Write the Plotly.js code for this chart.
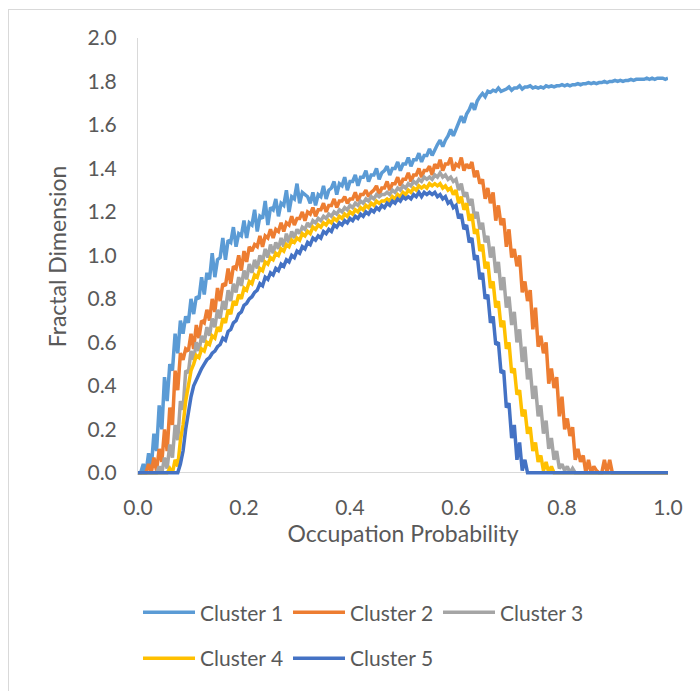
<!DOCTYPE html>
<html>
<head>
<meta charset="utf-8">
<script src="https://cdn.plot.ly/plotly-3.0.1.min.js"></script>
<style>
  html, body { margin: 0; padding: 0; background: #fff; }
  #wrap { position: relative; width: 700px; height: 691px; overflow: hidden; }
  #chart { position: absolute; left: 0; top: 0; width: 700px; height: 691px; }
  #frame { position: absolute; left: 8px; top: 9px; width: 800px; height: 800px;
           border-left: 1px solid #d9d9d9; border-top: 1px solid #d9d9d9; pointer-events: none; }
</style>
</head>
<body>
<div id="wrap"><div id="chart"></div><div id="frame"></div></div>
<script>
// Sampling grid of occupation probability (step 0.005, 0 .. 1)
const occupationProbability = Array.from({length: 201}, (_, i) => +(i * 0.005).toFixed(3));

const seriesNames = ['Cluster 1', 'Cluster 2', 'Cluster 3', 'Cluster 4', 'Cluster 5'];
const seriesColors = ['#5B9BD5', '#ED7D31', '#A5A5A5', '#FFC000', '#4472C4'];

const cluster1 = [
  0, 0, 0.04, 0, 0.09, 0.02, 0.18, 0.10, 0.31, 0.20,
  0.44, 0.33, 0.50, 0.47, 0.64, 0.55, 0.70, 0.64, 0.72, 0.69,
  0.80, 0.73, 0.81, 0.80, 0.90, 0.82, 0.92, 0.89, 1.01, 0.90,
  0.98, 0.99, 1.08, 0.98, 1.07, 1.06, 1.13, 1.04, 1.10, 1.09,
  1.16, 1.08, 1.15, 1.14, 1.21, 1.11, 1.18, 1.17, 1.25, 1.14,
  1.22, 1.21, 1.26, 1.18, 1.24, 1.23, 1.30, 1.20, 1.27, 1.26,
  1.33, 1.24, 1.29, 1.28, 1.27, 1.24, 1.29, 1.23, 1.28, 1.27,
  1.32, 1.26, 1.30, 1.31, 1.34, 1.28, 1.33, 1.32, 1.36, 1.30,
  1.34, 1.34, 1.37, 1.32, 1.36, 1.36, 1.39, 1.34, 1.37, 1.37,
  1.40, 1.35, 1.38, 1.39, 1.41, 1.37, 1.40, 1.40, 1.43, 1.39,
  1.42, 1.42, 1.45, 1.41, 1.44, 1.44, 1.47, 1.43, 1.46, 1.46,
  1.49, 1.46, 1.49, 1.51, 1.53, 1.50, 1.53, 1.55, 1.58, 1.55,
  1.58, 1.61, 1.64, 1.61, 1.65, 1.67, 1.70, 1.67, 1.71, 1.73,
  1.745, 1.73, 1.755, 1.75, 1.76, 1.755, 1.77, 1.755, 1.76, 1.765,
  1.775, 1.76, 1.77, 1.77, 1.78, 1.765, 1.775, 1.775, 1.78, 1.77,
  1.775, 1.77, 1.775, 1.77, 1.78, 1.775, 1.78, 1.775, 1.78, 1.78,
  1.785, 1.78, 1.785, 1.78, 1.785, 1.785, 1.79, 1.785, 1.79, 1.79,
  1.795, 1.79, 1.795, 1.79, 1.795, 1.795, 1.80, 1.795, 1.80, 1.80,
  1.805, 1.80, 1.805, 1.80, 1.805, 1.805, 1.81, 1.805, 1.81, 1.81,
  1.81, 1.81, 1.815, 1.81, 1.815, 1.81, 1.815, 1.815, 1.815, 1.81,
  1.815
];

const cluster2 = [
  0, 0, 0, 0, 0.04, 0, 0.07, 0.01, 0.11, 0.05,
  0.20, 0.10, 0.30, 0.22, 0.47, 0.38, 0.55, 0.52, 0.57, 0.56,
  0.64, 0.57, 0.68, 0.62, 0.70, 0.69, 0.75, 0.70, 0.80, 0.74,
  0.85, 0.79, 0.87, 0.86, 0.94, 0.87, 0.95, 0.94, 1.00, 0.93,
  1.02, 0.97, 1.04, 1.02, 1.05, 1.04, 1.09, 1.04, 1.09, 1.08,
  1.12, 1.08, 1.12, 1.11, 1.15, 1.11, 1.15, 1.14, 1.18, 1.14,
  1.17, 1.17, 1.20, 1.16, 1.20, 1.19, 1.22, 1.18, 1.21, 1.21,
  1.24, 1.20, 1.23, 1.23, 1.26, 1.22, 1.25, 1.25, 1.27, 1.24,
  1.26, 1.26, 1.29, 1.25, 1.28, 1.28, 1.30, 1.27, 1.29, 1.30,
  1.32, 1.28, 1.31, 1.31, 1.34, 1.30, 1.33, 1.33, 1.36, 1.32,
  1.35, 1.35, 1.38, 1.34, 1.37, 1.37, 1.40, 1.36, 1.39, 1.39,
  1.41, 1.37, 1.42, 1.40, 1.44, 1.39, 1.42, 1.42, 1.45, 1.39,
  1.42, 1.41, 1.45, 1.39, 1.42, 1.40, 1.43, 1.36, 1.39, 1.33,
  1.35, 1.26, 1.31, 1.24, 1.29, 1.16, 1.23, 1.14, 1.17, 1.04,
  1.12, 0.99, 1.03, 0.95, 1.00, 0.83, 0.88, 0.79, 0.84, 0.66,
  0.76, 0.58, 0.63, 0.55, 0.60, 0.41, 0.48, 0.39, 0.44, 0.26,
  0.35, 0.20, 0.25, 0.17, 0.21, 0.06, 0.11, 0.05, 0.08, 0,
  0.06, 0, 0.03, 0.01, 0, 0, 0.06, 0, 0.06, 0,
  0, 0, 0, 0, 0, 0, 0, 0, 0, 0,
  0, 0, 0, 0, 0, 0, 0, 0, 0, 0,
  0
];

const cluster3 = [
  0, 0, 0, 0, 0, 0, 0, 0, 0.03, 0,
  0.07, 0.02, 0.13, 0.07, 0.22, 0.15, 0.33, 0.29, 0.47, 0.46,
  0.56, 0.52, 0.60, 0.56, 0.63, 0.60, 0.67, 0.63, 0.71, 0.67,
  0.75, 0.71, 0.79, 0.75, 0.84, 0.79, 0.87, 0.83, 0.90, 0.86,
  0.93, 0.89, 0.96, 0.92, 0.98, 0.94, 1.00, 0.97, 1.03, 0.99,
  1.05, 1.01, 1.06, 1.03, 1.08, 1.04, 1.10, 1.06, 1.11, 1.08,
  1.12, 1.10, 1.13, 1.12, 1.15, 1.13, 1.16, 1.15, 1.17, 1.16,
  1.18, 1.17, 1.19, 1.18, 1.20, 1.19, 1.21, 1.20, 1.22, 1.21,
  1.23, 1.22, 1.24, 1.23, 1.25, 1.24, 1.26, 1.25, 1.27, 1.26,
  1.28, 1.27, 1.28, 1.28, 1.29, 1.28, 1.30, 1.29, 1.31, 1.30,
  1.32, 1.31, 1.33, 1.32, 1.34, 1.33, 1.35, 1.34, 1.36, 1.35,
  1.36, 1.35, 1.37, 1.36, 1.38, 1.36, 1.37, 1.35, 1.36, 1.34,
  1.35, 1.30, 1.33, 1.27, 1.29, 1.23, 1.26, 1.17, 1.20, 1.12,
  1.15, 1.06, 1.09, 0.99, 1.04, 0.92, 0.97, 0.84, 0.90, 0.76,
  0.81, 0.68, 0.74, 0.60, 0.66, 0.51, 0.58, 0.43, 0.48, 0.34,
  0.40, 0.26, 0.31, 0.18, 0.24, 0.11, 0.16, 0.06, 0.10, 0.02,
  0.04, 0.01, 0.03, 0, 0.02, 0, 0, 0, 0, 0,
  0, 0, 0, 0, 0, 0, 0, 0, 0, 0,
  0, 0, 0, 0, 0, 0, 0, 0, 0, 0,
  0, 0, 0, 0, 0, 0, 0, 0, 0, 0,
  0
];

const cluster4 = [
  0, 0, 0, 0, 0, 0, 0, 0, 0, 0,
  0, 0, 0.02, 0, 0.06, 0.03, 0.15, 0.22, 0.33, 0.40,
  0.47, 0.50, 0.54, 0.53, 0.57, 0.56, 0.60, 0.59, 0.63, 0.62,
  0.67, 0.65, 0.71, 0.69, 0.75, 0.73, 0.79, 0.77, 0.82, 0.80,
  0.85, 0.84, 0.88, 0.87, 0.91, 0.90, 0.94, 0.93, 0.97, 0.96,
  0.99, 0.98, 1.01, 1.00, 1.03, 1.02, 1.05, 1.04, 1.07, 1.06,
  1.08, 1.07, 1.10, 1.09, 1.11, 1.10, 1.13, 1.12, 1.14, 1.13,
  1.15, 1.14, 1.16, 1.15, 1.17, 1.16, 1.18, 1.17, 1.19, 1.18,
  1.20, 1.19, 1.21, 1.20, 1.22, 1.21, 1.23, 1.22, 1.24, 1.23,
  1.25, 1.24, 1.25, 1.25, 1.26, 1.25, 1.27, 1.26, 1.28, 1.27,
  1.29, 1.28, 1.30, 1.29, 1.31, 1.30, 1.32, 1.31, 1.32, 1.31,
  1.33, 1.32, 1.33, 1.32, 1.33, 1.31, 1.32, 1.30, 1.31, 1.28,
  1.30, 1.24, 1.27, 1.21, 1.24, 1.16, 1.19, 1.10, 1.12, 1.02,
  1.05, 0.94, 0.97, 0.85, 0.88, 0.76, 0.79, 0.67, 0.70, 0.57,
  0.60, 0.46, 0.48, 0.36, 0.38, 0.26, 0.29, 0.18, 0.21, 0.10,
  0.14, 0.05, 0.08, 0.01, 0.05, 0, 0.03, 0, 0, 0,
  0, 0, 0, 0, 0, 0, 0, 0, 0, 0,
  0, 0, 0, 0, 0, 0, 0, 0, 0, 0,
  0, 0, 0, 0, 0, 0, 0, 0, 0, 0,
  0, 0, 0, 0, 0, 0, 0, 0, 0, 0,
  0
];

const cluster5 = [
  0, 0, 0, 0, 0, 0, 0, 0, 0, 0,
  0, 0, 0, 0, 0, 0, 0.04, 0.10, 0.20, 0.28,
  0.35, 0.40, 0.43, 0.46, 0.48, 0.50, 0.52, 0.53, 0.55, 0.56,
  0.58, 0.59, 0.62, 0.61, 0.65, 0.66, 0.69, 0.70, 0.73, 0.74,
  0.77, 0.78, 0.80, 0.81, 0.83, 0.84, 0.87, 0.86, 0.90, 0.89,
  0.92, 0.91, 0.94, 0.93, 0.96, 0.95, 0.98, 0.97, 1.00, 0.99,
  1.02, 1.01, 1.04, 1.03, 1.06, 1.05, 1.08, 1.07, 1.09, 1.08,
  1.11, 1.10, 1.12, 1.11, 1.14, 1.13, 1.15, 1.14, 1.16, 1.15,
  1.17, 1.16, 1.18, 1.17, 1.19, 1.18, 1.20, 1.19, 1.21, 1.20,
  1.22, 1.21, 1.23, 1.22, 1.24, 1.23, 1.25, 1.24, 1.26, 1.25,
  1.27, 1.26, 1.27, 1.26, 1.28, 1.27, 1.29, 1.27, 1.29, 1.28,
  1.29, 1.28, 1.29, 1.27, 1.28, 1.26, 1.27, 1.24, 1.25, 1.22,
  1.23, 1.17, 1.19, 1.12, 1.14, 1.06, 1.08, 0.98, 1.00, 0.89,
  0.92, 0.80, 0.82, 0.69, 0.72, 0.59, 0.60, 0.46, 0.47, 0.30,
  0.32, 0.16, 0.22, 0.06, 0.14, 0.01, 0.06, 0, 0, 0,
  0, 0, 0, 0, 0, 0, 0, 0, 0, 0,
  0, 0, 0, 0, 0, 0, 0, 0, 0, 0,
  0, 0, 0, 0, 0, 0, 0, 0, 0, 0,
  0, 0, 0, 0, 0, 0, 0, 0, 0, 0,
  0, 0, 0, 0, 0, 0, 0, 0, 0, 0,
  0
];

const xTickValues = [0, 0.2, 0.4, 0.6, 0.8, 1.0];
const yTickValues = [0, 0.2, 0.4, 0.6, 0.8, 1.0, 1.2, 1.4, 1.6, 1.8, 2.0];

const allSeries = [cluster1, cluster2, cluster3, cluster4, cluster5];
const legendIds = ['legend', 'legend', 'legend', 'legend2', 'legend2'];

const traces = allSeries.map((ys, k) => ({
  type: 'scatter',
  mode: 'lines',
  name: seriesNames[k],
  x: occupationProbability,
  y: ys,
  line: {color: seriesColors[k], width: 3.5},
  legend: legendIds[k],
  hoverinfo: 'x+y+name'
}));

const textColor = '#595959';
const fontFamily = 'Lato, "Open Sans", sans-serif';

const legendCommon = {
  orientation: 'h',
  x: 0, xanchor: 'left',
  yanchor: 'middle',
  entrywidth: 83, entrywidthmode: 'pixels',
  itemwidth: 52,
  font: {family: fontFamily, size: 21, color: textColor},
  bgcolor: 'rgba(0,0,0,0)', borderwidth: 0,
  traceorder: 'normal'
};

const layout = {
  width: 700, height: 691,
  margin: {l: 138, r: 32, t: 38, b: 213, pad: 0},
  paper_bgcolor: '#ffffff', plot_bgcolor: '#ffffff',
  font: {family: fontFamily, color: textColor},
  showlegend: true,
  xaxis: {
    range: [0, 1],
    tickvals: xTickValues,
    tickformat: '.1f',
    ticks: '', showgrid: false, zeroline: false,
    showline: false,
    ticklabelstandoff: 18,
    tickfont: {family: fontFamily, size: 21, color: textColor},
    title: {text: 'Occupation Probability', font: {family: fontFamily, size: 23, color: textColor}, standoff: 7}
  },
  yaxis: {
    range: [-0.01, 2],
    tickvals: yTickValues,
    tickformat: '.1f',
    ticks: '', showgrid: false,
    zeroline: true, zerolinecolor: '#d9d9d9', zerolinewidth: 1,
    showline: true, linecolor: '#d9d9d9', linewidth: 1,
    ticklabelstandoff: 16,
    tickfont: {family: fontFamily, size: 21, color: textColor},
    title: {text: 'Fractal Dimension', font: {family: fontFamily, size: 23, color: textColor}, standoff: 14}
  },
  legend: Object.assign({}, legendCommon, {y: (476 - 614) / 438}),
  legend2: Object.assign({}, legendCommon, {y: (476 - 660) / 438})
};

Plotly.newPlot('chart', traces, layout, {displayModeBar: false, staticPlot: true});
</script>
</body>
</html>
